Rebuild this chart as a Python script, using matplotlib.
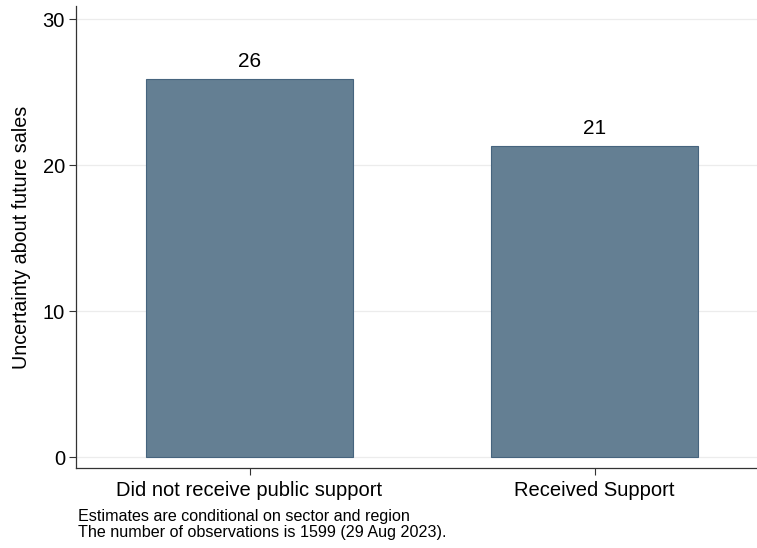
import matplotlib
matplotlib.use("Agg")
import matplotlib.pyplot as plt

categories = ["Did not receive public support", "Received Support"]
values = [25.9, 21.3]
value_labels = ["26", "21"]
y_ticks = [0, 10, 20, 30]

plt.rcParams['font.family'] = ['Liberation Sans', 'DejaVu Sans']

fig = plt.figure(figsize=(7.57, 5.48), dpi=100)
ax = fig.add_axes([76 / 757, 1 - 468 / 548, 1 - 76 / 757, (468 - 6) / 548])

x = range(len(categories))
ax.bar(x, values, width=0.6, color="#647f93", edgecolor="#46647e", linewidth=0.8, zorder=3)
for xi, v, lab in zip(x, values, value_labels):
    ax.text(xi, v + 0.55, lab, ha="center", va="bottom", fontsize=15)

ax.set_xlim(-0.503, 1.471)
ax.set_ylim(-0.75, 30.9)
ax.set_yticks(y_ticks)
ax.set_xticks(list(x))
ax.set_xticklabels(categories, fontsize=14.5)
ax.tick_params(axis="y", labelsize=14.5, length=5, width=0.8, color="#333333", pad=3)
ax.tick_params(axis="x", length=5, width=0.8, color="#333333", pad=4)
ax.grid(axis="y", color="#ececec", linewidth=0.9, zorder=0)
ax.set_ylabel("Uncertainty about future sales", fontsize=14.2, labelpad=8)

for s in ["top", "right"]:
    ax.spines[s].set_visible(False)
for s in ["left", "bottom"]:
    ax.spines[s].set_color("#333333")
    ax.spines[s].set_linewidth(0.9)

fig.text(78 / 757, 1 - 516 / 548, "Estimates are conditional on sector and region", fontsize=11.6, va="center")
fig.text(78 / 757, 1 - 533 / 548, "The number of observations is 1599 (29 Aug 2023).", fontsize=11.6, va="center")

fig.savefig("out.png", dpi=100)
